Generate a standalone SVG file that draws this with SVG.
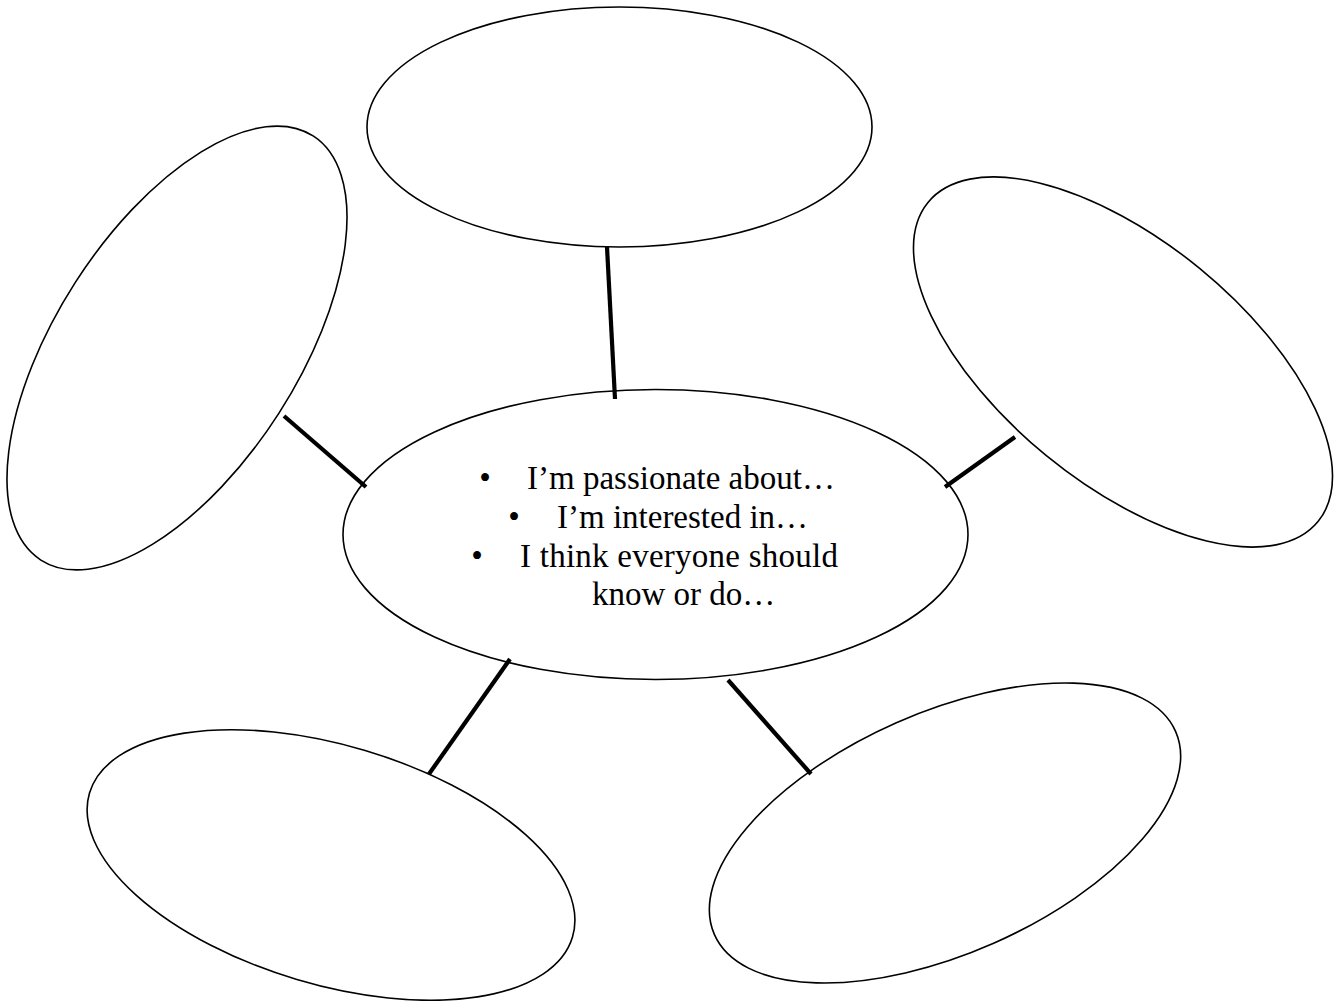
<svg xmlns="http://www.w3.org/2000/svg" width="1336" height="1001" viewBox="0 0 1336 1001">
<style>
.node{fill:#fff;stroke:#000;stroke-width:1.6}
.conn{stroke:#000;stroke-width:4.2;stroke-linecap:butt}
.t{font-family:"Liberation Serif","Times New Roman",serif;font-size:33px;fill:#000}
.b{font-family:"Liberation Serif","Times New Roman",serif;font-size:33px;fill:#000;text-anchor:middle}
</style>
<rect width="1336" height="1001" fill="#fff"/>
<g id="node-top"><ellipse class="node" cx="619.5" cy="127" rx="252.5" ry="120"/></g>
<g id="node-left"><ellipse class="node" cx="177" cy="348" rx="252" ry="121" transform="rotate(-57.3 177 348)"/></g>
<g id="node-right"><ellipse class="node" cx="1123" cy="362" rx="252" ry="121" transform="rotate(39.3 1123 362)"/></g>
<g id="node-bottom-left"><ellipse class="node" cx="331" cy="865" rx="252" ry="119.5" transform="rotate(16.6 331 865)"/></g>
<g id="node-bottom-right"><ellipse class="node" cx="945" cy="833" rx="252" ry="120.5" transform="rotate(-23.8 945 833)"/></g>
<g id="node-center">
<ellipse class="node" cx="655.5" cy="534.5" rx="312.5" ry="145"/>
<text class="b" x="485" y="489">•</text><text class="t" x="527" y="489">I’m passionate about…</text>
<text class="b" x="514" y="528">•</text><text class="t" x="557" y="528">I’m interested in…</text>
<text class="b" x="477" y="567">•</text><text class="t" x="520" y="567" textLength="318" lengthAdjust="spacing">I think everyone should</text>
<text class="t" x="592" y="605">know or do…</text>
</g>
<g id="connectors">
<line class="conn" x1="607" y1="247" x2="615" y2="399"/>
<line class="conn" x1="284" y1="416" x2="366" y2="487"/>
<line class="conn" x1="1015" y1="437" x2="945" y2="487"/>
<line class="conn" x1="510" y1="659" x2="429" y2="774"/>
<line class="conn" x1="728" y1="680" x2="811" y2="774"/>
</g>
</svg>
